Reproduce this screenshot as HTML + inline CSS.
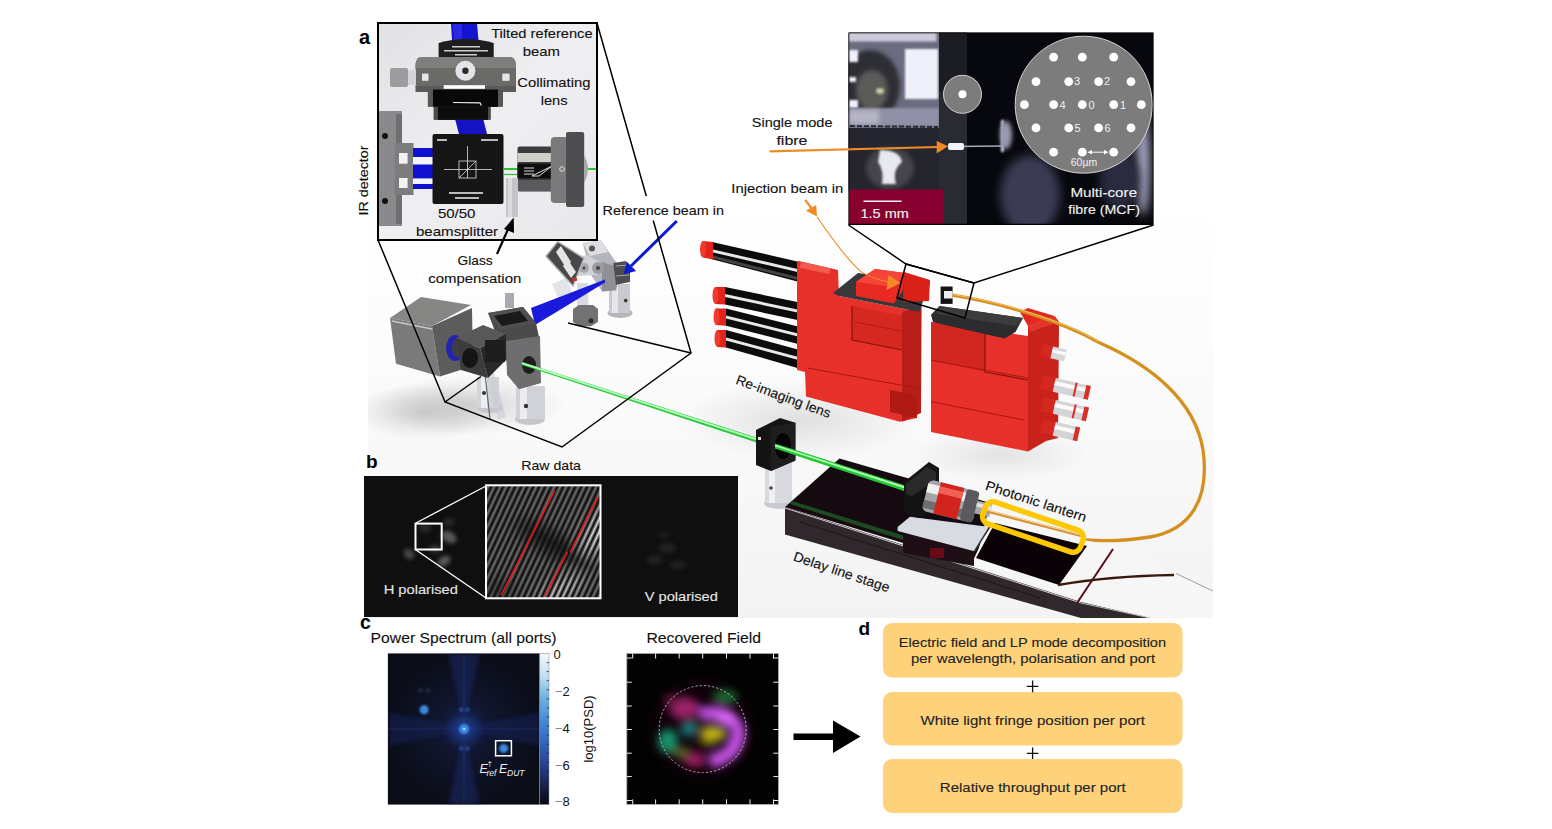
<!DOCTYPE html>
<html><head><meta charset="utf-8">
<style>
html,body{margin:0;padding:0;background:#fff;width:1552px;height:829px;overflow:hidden}
svg{display:block;font-family:"Liberation Sans",sans-serif}
.t{font-size:13.5px;fill:#111}
.w{font-size:13.5px;fill:#f4f4f4}
.h{font-size:14px;fill:#111}
.bold{font-weight:bold;font-size:16px;fill:#000}
.box{font-size:13.5px;fill:#222}
</style></head>
<body>
<svg width="1552" height="829" viewBox="0 0 1552 829">
<defs>
  <clipPath id="cliprender"><rect x="368" y="200" width="845" height="418"/></clipPath>
  <filter id="blur45" x="-50%" y="-50%" width="200%" height="200%"><feGaussianBlur stdDeviation="4.5"/></filter>
  <filter id="blur3" x="-50%" y="-50%" width="200%" height="200%"><feGaussianBlur stdDeviation="3.2"/></filter>
  <clipPath id="clipfr"><rect x="486" y="485" width="114.5" height="113.5"/></clipPath>
  <clipPath id="clippsd"><rect x="388" y="653.5" width="151.5" height="151"/></clipPath>
  <clipPath id="cliprf"><rect x="627" y="654" width="151" height="150"/></clipPath>
  <linearGradient id="fringe" gradientUnits="userSpaceOnUse" x1="0" y1="0" x2="5.44" y2="0" spreadMethod="repeat" gradientTransform="translate(486 485) rotate(25)">
    <stop offset="0" stop-color="#000"/><stop offset="0.25" stop-color="#707070"/><stop offset="0.5" stop-color="#fff"/><stop offset="0.75" stop-color="#707070"/><stop offset="1" stop-color="#000"/>
  </linearGradient>
  <mask id="frmask" maskUnits="userSpaceOnUse" x="486" y="485" width="115" height="114">
    <rect x="486" y="485" width="115" height="114" fill="#6a6a6a"/>
    <g filter="url(#blur6)">
      <ellipse cx="555" cy="545" rx="45" ry="10" fill="#0a0a0a" transform="rotate(30 555 545)"/>
      <ellipse cx="598" cy="530" rx="12" ry="28" fill="#f0f0f0" transform="rotate(28 598 530)"/>
      <ellipse cx="560" cy="590" rx="26" ry="10" fill="#e0e0e0" transform="rotate(-30 560 590)"/>
      <ellipse cx="500" cy="590" rx="15" ry="12" fill="#383838"/>
    </g>
  </mask>
  <filter id="blur6" x="-50%" y="-50%" width="200%" height="200%"><feGaussianBlur stdDeviation="7"/></filter>
  <radialGradient id="psdglow" cx="464" cy="729" r="80" gradientUnits="userSpaceOnUse">
    <stop offset="0" stop-color="#18224c"/><stop offset="0.35" stop-color="#10162e"/><stop offset="1" stop-color="#0a0c16"/>
  </radialGradient>
  <linearGradient id="cbar" x1="0" y1="0" x2="0" y2="1">
    <stop offset="0" stop-color="#f4f8fc"/><stop offset="0.15" stop-color="#bfe0f0"/><stop offset="0.3" stop-color="#6ab0e0"/>
    <stop offset="0.5" stop-color="#3a7cd0"/><stop offset="0.7" stop-color="#2a4aa0"/><stop offset="0.85" stop-color="#1a2658"/><stop offset="1" stop-color="#050810"/>
  </linearGradient>
  <clipPath id="clipmcf"><rect x="848.5" y="32.5" width="305" height="192.5"/></clipPath>
  <filter id="blur1" x="-50%" y="-50%" width="200%" height="200%"><feGaussianBlur stdDeviation="1"/></filter>
  <filter id="blur2" x="-50%" y="-50%" width="200%" height="200%"><feGaussianBlur stdDeviation="2"/></filter>
  <filter id="blur4" x="-50%" y="-50%" width="200%" height="200%"><feGaussianBlur stdDeviation="5"/></filter>
  <linearGradient id="renderbg" x1="0" y1="0" x2="0" y2="1">
    <stop offset="0" stop-color="#ffffff"/><stop offset="0.5" stop-color="#fafafa"/><stop offset="1" stop-color="#f3f3f3"/>
  </linearGradient>
  <radialGradient id="shadow"><stop offset="0" stop-color="#b0b0b0"/><stop offset="1" stop-color="#b0b0b0" stop-opacity="0"/></radialGradient>
  <linearGradient id="insetbg" x1="0" y1="0" x2="1" y2="1">
    <stop offset="0" stop-color="#e2e2e4"/><stop offset="0.5" stop-color="#efeff1"/><stop offset="1" stop-color="#e8e8ea"/>
  </linearGradient>
</defs>

<!-- ===== render background ===== -->
<g id="render" clip-path="url(#cliprender)">
  <rect x="368" y="200" width="845" height="418" fill="url(#renderbg)"/>
  <ellipse cx="470" cy="405" rx="95" ry="30" fill="url(#shadow)" opacity="0.5"/>
  <ellipse cx="425" cy="412" rx="75" ry="28" fill="url(#shadow)" opacity="0.55"/>
  <ellipse cx="800" cy="420" rx="120" ry="40" fill="url(#shadow)" opacity="0.35"/>
  <ellipse cx="1000" cy="455" rx="90" ry="25" fill="url(#shadow)" opacity="0.3"/>
  <polygon points="1176,573 1213,590 1213,618 1150,618" fill="#fff"/>
  <!-- reference mount -->
  <g id="refmount">
    <!-- right post -->
    <ellipse cx="620" cy="313" rx="12.5" ry="5" fill="#b4b6bc"/>
    <rect x="609" y="284" width="21" height="29" fill="#c8cad0"/>
    <rect x="612" y="284" width="6" height="29" fill="#e4e6ea"/>
    <circle cx="625.7" cy="300.6" r="1.8" fill="#333"/>
    <!-- middle post -->
    <rect x="577" y="283" width="11.3" height="25" fill="#d8dae0"/>
    <polygon points="573,309 579,305 593,305 598,309 598,322 591,326.3 579,326.3 573,322" fill="#727274"/>
    <circle cx="591" cy="320.7" r="2.5" fill="#2a2a2a"/>
    <!-- lens tube -->
    <polygon points="552,284 566,278 573,294 559,300" fill="#e2e4ea"/>
    <!-- body -->
    <polygon points="582.7,243 600.8,240.3 620.2,268 616,290.2 602,291.6 591,275" fill="#b4b6bb"/>
    <polygon points="582.7,243 600.8,240.3 608,252 590,256" fill="#dcdee2"/>
    <polygon points="602,262 620.2,268 616,290.2 602,291.6" fill="#8e9095"/>
    <circle cx="592" cy="248.5" r="3" fill="#555"/>
    <!-- knob -->
    <polygon points="613.2,263 626,261 630,270 630,282 616,284.7" fill="#4e4e50"/>
    <line x1="616" y1="266" x2="629" y2="265" stroke="#aaa" stroke-width="1"/>
    <line x1="616" y1="276" x2="629" y2="275" stroke="#aaa" stroke-width="1"/>
    <!-- gimbal -->
    <polygon points="570,256 588,255.5 600,262 598,275 575,276" fill="#d0d2d8"/>
    <circle cx="584" cy="268" r="5" fill="#a8aab0"/><circle cx="584" cy="268" r="1.5" fill="#444"/>
    <circle cx="598" cy="268" r="6" fill="#9a9ca2"/><circle cx="598" cy="268" r="2" fill="#444"/>
    <!-- mirror plate -->
    <polygon points="557.7,241.6 584,258.3 573,286 546,256.2" fill="#48484a" stroke="#b4b4b4" stroke-width="1.5" stroke-linejoin="round"/>
    <polygon points="556,252 561,246 571,262 566,268" fill="#e4e4e4"/>
    <polygon points="563,266 568,260 576,272 571,278" fill="#e4e4e4"/>
    <rect x="572" y="278" width="5" height="3" fill="#c03030"/>
  </g>
  <!-- blue beam cone -->
  <polygon points="531,308 605,279.5 605,282.5 535,325" fill="#1a1adc"/>
  <!-- optics cluster -->
  <g id="optics">
    <!-- posts -->
    <ellipse cx="490" cy="408" rx="13" ry="5" fill="#c4c6cc"/>
    <rect x="477" y="377" width="22" height="31" fill="#d2d4da"/>
    <rect x="481" y="377" width="6" height="31" fill="#eceef2"/>
    <circle cx="484" cy="393" r="2" fill="#333"/>
    <polygon points="482,356 489,354 506,417 498,420" fill="#c8ccd4" opacity="0.6"/>
    <line x1="483" y1="356" x2="490" y2="419" stroke="#666" stroke-width="1.2"/>
    <ellipse cx="530" cy="419" rx="15" ry="6" fill="#c4c6cc"/>
    <rect x="516" y="386" width="29" height="33" fill="#d0d2d8"/>
    <rect x="520" y="386" width="7" height="33" fill="#eaecf0"/>
    <circle cx="526" cy="406" r="2.2" fill="#333"/>
    <!-- camera -->
    <polygon points="390,318 432,326 440,376.6 396,363.8" fill="#7a7a7a"/>
    <polygon points="432,326 472,308 473,366 440,376.6" fill="#5c5c5c"/>
    <polygon points="390,318 421,297 471,305 432,326" fill="#868684"/>
    <line x1="392" y1="321" x2="432" y2="329" stroke="#c8c8c8" stroke-width="1.5"/>
    <ellipse cx="455" cy="348" rx="9" ry="13" fill="#2424b0"/>
    <ellipse cx="457" cy="348" rx="5" ry="9" fill="#404040"/>
    <!-- kinematic mount -->
    <polygon points="488,313 523,307 536,323 540,342 540,383 519,389 506,360" fill="#4a4a4a"/>
    <polygon points="488,313 523,307 536,323 500,330" fill="#505052"/>
    <polygon points="494,316 520,311 528,321 502,326" fill="#1a1a1a"/>
    <rect x="505" y="293" width="9" height="15" fill="#a8aab0"/>
    <polygon points="506,341 540,336 541,383 519,389 507,375" fill="#6e6e70"/>
    <ellipse cx="529" cy="365" rx="7" ry="9" fill="#1e1e1e"/>
    <!-- cage cube -->
    <polygon points="456,338 483,325 506,334 480,348" fill="#585858"/>
    <polygon points="456,338 480,348 488,378 461,370" fill="#3c3c3c"/>
    <polygon points="480,348 506,334 506,360 488,378" fill="#2a2a2a"/>
    <ellipse cx="470" cy="358" rx="8" ry="10" fill="#151515"/>
    <rect x="485" y="340" width="20" height="22" fill="#1d1d1d"/>
  </g>
  <!-- green beam -->
  <polygon points="522,362.0 907,485.9 907,492.1 522,365.0" fill="#26c834"/><line x1="522" y1="363.1" x2="907" y2="488.3" stroke="#b8ffc0" stroke-width="1.8"/>
  <!-- left red block -->
  <g id="redL">
    <!-- rods -->
    <g>
      <polygon points="711,241.7 806,263.4 806,283.7 711,259" fill="#0c0c0c"/>
      <polygon points="711,249 806,271 806,274 711,252" fill="#e8e8e8"/>
      <polygon points="711,255 806,279 806,282 711,258" fill="#444"/>
      <polygon points="703,241 713,242 713,259.5 703,257.5" fill="#e3221b"/>
      <ellipse cx="703" cy="249.3" rx="3" ry="8.3" fill="#f03a30"/>
      <polygon points="725,287 807,304 807,322 725,304.5" fill="#0c0c0c"/>
      <polygon points="725,294 807,311.5 807,314.5 725,297" fill="#e8e8e8"/>
      <polygon points="715,287 725,287 725,304.5 715,304" fill="#e3221b"/>
      <ellipse cx="715.5" cy="295.6" rx="3" ry="8.5" fill="#f03a30"/>
      <polygon points="726,308.5 806,328.6 806,346 726,325.7" fill="#0c0c0c"/>
      <polygon points="726,315.5 806,335.5 806,338.5 726,318.5" fill="#e8e8e8"/>
      <polygon points="716,308.5 726,308.5 726,325.7 716,325" fill="#e3221b"/>
      <ellipse cx="716.5" cy="316.8" rx="3" ry="8.5" fill="#f03a30"/>
      <polygon points="726,330 806,351.7 806,370.5 726,347.4" fill="#0c0c0c"/>
      <polygon points="726,337.5 806,359 806,362 726,340.5" fill="#e8e8e8"/>
      <polygon points="717,330 726,330 726,347.4 717,347" fill="#e3221b"/>
      <ellipse cx="717.5" cy="338.5" rx="3" ry="8.5" fill="#f03a30"/>
      <polygon points="797,303 812,306 812,328 797,324" fill="#e8302a"/>
      <polygon points="797,326 812,330 812,349 797,345" fill="#e8302a"/>
      <polygon points="797,349 812,352 812,372 797,369" fill="#e8302a"/>
    </g>
    <polygon points="799,261 838,270 839,296 919.5,312 917,418 900,421.7 806,396.4 805,372 797,370 797,262" fill="#e8302a"/>
    <polygon points="902,312 921.6,305 921,413 902,421.7" fill="#b81d17"/>
    <polygon points="833,293 858,273 930,283 921.6,305 919.5,312 839,296" fill="#38383a"/>
    <polygon points="856,282 875,269 905,273 903,290 894,303.5 856,296" fill="#e82a22"/>
    <polygon points="856,282 875,269 905,273 894,287" fill="#f5453a"/>
    <polygon points="904,272 930,280 929,301 903,302" fill="#d82219"/>
    <polygon points="852,306 902,316 902,350 852,340" fill="#d42820"/>
    <polyline points="852,306 852,340 902,350" stroke="#8a120d" stroke-width="1.2" fill="none"/>
    <line x1="855" y1="322" x2="902" y2="331" stroke="#a8160f" stroke-width="0.8"/>
    <line x1="808" y1="368" x2="917" y2="388" stroke="#a8160f" stroke-width="1"/>
    <polygon points="890,390 917,395 917,418 890,412" fill="#b01a14"/>
    <rect x="801" y="262" width="30" height="6" fill="#f25a50" transform="rotate(12 801 262)"/>
  </g>
  <!-- right red block -->
  <g id="redR">
    <polygon points="931,322 1028,336 1028,451.5 931,432" fill="#e8302a"/>
    <polygon points="1028,326 1054.6,316 1059,322 1058,438 1046,441 1028,451.5" fill="#c8221b"/>
    <polygon points="1028,326 1054.6,316 1059,322 1030,332" fill="#e2352c"/>
    <polygon points="1020,312 1028,308 1054.6,316 1028,326" fill="#e4261f"/>
    <polygon points="931,322 985,333 985,372 931,360" fill="#d22720"/>
    <polyline points="985,333 985,372 1028,380" stroke="#8a120d" stroke-width="1.2" fill="none"/>
    <line x1="931" y1="360.3" x2="1028" y2="378" stroke="#a8160f" stroke-width="1"/>
    <line x1="931" y1="401.6" x2="1024" y2="420" stroke="#a8160f" stroke-width="1"/>
    <polygon points="931,314.7 939.5,306 1023,318 1015.5,332 1004.7,338.6 933,322.3" fill="#2c2c2e"/>
    <polygon points="939.5,306 1023,318 1016,326 936,314" fill="#3c3c3e"/>
    <rect x="940.6" y="286.5" width="12" height="17.4" fill="#141414"/>
    <rect x="944" y="291" width="8.6" height="7.5" fill="#eeeeee"/>
    <!-- micrometers -->
    <g transform="rotate(12.8 1041.6 350)">
      <rect x="1041.6" y="344" width="12" height="12" fill="#d42820"/>
      <rect x="1052" y="344" width="14" height="12" fill="#d8d8dc"/><rect x="1052" y="347" width="14" height="3" fill="#fafafa"/>
    </g>
    <g transform="rotate(12.8 1041.6 382)">
      <rect x="1041.6" y="375" width="14" height="14" fill="#d42820"/>
      <rect x="1054.6" y="375" width="36" height="14" fill="#d4d4d8"/><rect x="1054.6" y="378" width="36" height="4" fill="#fafafa"/>
      <rect x="1075" y="375" width="2" height="14" fill="#e02a22"/><rect x="1086" y="375" width="4.6" height="14" fill="#d83028"/>
    </g>
    <g transform="rotate(12.8 1041.6 404)">
      <rect x="1041.6" y="397" width="14" height="14" fill="#d42820"/>
      <rect x="1054.6" y="397" width="34" height="14" fill="#d4d4d8"/><rect x="1054.6" y="400" width="34" height="4" fill="#fafafa"/>
      <rect x="1074" y="397" width="2" height="14" fill="#e02a22"/><rect x="1084" y="397" width="4.6" height="14" fill="#d83028"/>
    </g>
    <g transform="rotate(12.8 1041.6 426)">
      <rect x="1041.6" y="419" width="14" height="14" fill="#d42820"/>
      <rect x="1054.6" y="419" width="25" height="14" fill="#d4d4d8"/><rect x="1054.6" y="422" width="25" height="4" fill="#fafafa"/>
      <rect x="1075" y="419" width="4.6" height="14" fill="#d83028"/>
    </g>
  </g>
  <!-- orange fibre -->
  <path d="M952.6,295.2 C1000,303 1060,320 1100,343 C1150,365 1195,400 1203,450 C1210,500 1190,530 1150,537 C1120,542 1100,541 1085,540" fill="none" stroke="#d58f1c" stroke-width="3.3"/>
  <path d="M952.6,294.5 C1000,302 1060,319 1100,342" fill="none" stroke="#f4c060" stroke-width="1"/>
  <!-- middle mount -->
  <g id="midmount">
    <ellipse cx="779" cy="503" rx="15" ry="6" fill="#c8cad0"/>
    <rect x="765" y="462" width="27" height="41" fill="#d8dae0"/>
    <rect x="769" y="462" width="6" height="41" fill="#eef0f4"/>
    <circle cx="771" cy="488" r="1.8" fill="#444"/>
    <polygon points="756,430 780,418 795.4,422.7 795.4,460.6 771,471 756,465" fill="#141414"/>
    <polygon points="771,427 795.4,422.7 795.4,460.6 771,471" fill="#1e1e1e"/>
    <ellipse cx="783" cy="446" rx="8" ry="13" fill="#050505"/>
    <polygon points="775,443.4 800,451.5 800,456.8 775,448.5" fill="#26c834"/><line x1="775" y1="445.4" x2="800" y2="453.5" stroke="#b8ffc0" stroke-width="1.6"/>
    <rect x="758" y="437" width="3" height="3" fill="#ddd"/>
  </g>
  <!-- delay stage -->
  <g id="stage">
    <polygon points="785,507 839.5,458.5 907,478 990,503 975,565" fill="#150a10"/>
    <polygon points="792,501 905,536 903,540 790,504" fill="#1f5a28" opacity="0.8"/>
    <polygon points="800,451.5 910,486.9 910,493.1 800,456.8" fill="#26c834"/><line x1="800" y1="453.5" x2="910" y2="489.2" stroke="#b8ffc0" stroke-width="1.8"/>
    <polygon points="971,565 990,524 1124,547 1176,573.5 1213,591 1213,618 1152,618" fill="#f6f6f6"/>
    <line x1="1176" y1="573.5" x2="1213" y2="591" stroke="#999" stroke-width="1"/>
    <polygon points="976,558 995,523 1087,546 1059,585" fill="#0a0206"/>
    <polygon points="785,507 1081,602 1150,618 1081,618 785,534.6" fill="#30282c"/>
    <line x1="785" y1="508" x2="1081" y2="603" stroke="#d0c8cc" stroke-width="1"/>
    <line x1="1081" y1="603" x2="1150" y2="618" stroke="#bbb" stroke-width="1"/>
    <line x1="800" y1="522" x2="1040" y2="598" stroke="#1e181b" stroke-width="1"/>
    <line x1="1113" y1="549" x2="1077" y2="603" stroke="#5a0a14" stroke-width="2"/>
    <path d="M1058,585 Q1110,576 1174,575" stroke="#3a1a10" stroke-width="2.5" fill="none"/>
    <!-- lantern mount -->
    <polygon points="903,534 974,545 974,566 903,553" fill="#1d0f15"/>
    <rect x="930" y="548" width="14" height="10" fill="#6a0a14"/>
    <polygon points="897.6,527 910,516.7 989.6,527 974.4,551.3 897.6,531" fill="#d8dbe2"/>
    <line x1="974.4" y1="551.3" x2="989.6" y2="527" stroke="#333" stroke-width="1.5"/>
    <polygon points="904,482 929,462 939,468 939,509 918,518 904,512" fill="#141414"/>
    <polygon points="906,484 927,467 936,472 936,480 912,496 906,494" fill="#2a2a2a"/>
    <g transform="rotate(14 950 500)">
      <rect x="925" y="485" width="52" height="32" rx="5" fill="#a4a6aa"/>
      <rect x="925" y="489" width="52" height="9" fill="#f0f0f0"/>
      <rect x="925" y="506" width="52" height="8" fill="#6e6e72"/>
      <rect x="937" y="485" width="24" height="32" fill="#d2231c"/>
      <rect x="937" y="489" width="24" height="7" fill="#f06058"/>
      <rect x="964" y="485" width="13" height="32" rx="3" fill="#5a5a5e"/>
      <rect x="977" y="494" width="15" height="13" fill="#a8a8ac"/>
      <rect x="977" y="496" width="15" height="4" fill="#e0e0e0"/>
    </g>
  </g>
  <!-- yellow box -->
  <line x1="987" y1="511" x2="1083" y2="536" stroke="#d8902c" stroke-width="3.2"/>
  <line x1="987" y1="510" x2="1080" y2="534.5" stroke="#f8e0c0" stroke-width="1"/>
  <rect x="981.5" y="515.5" width="103" height="23" rx="8" fill="none" stroke="#fcc800" stroke-width="5.5" transform="rotate(18.7 1033 527)"/>
  <!-- zoom arrow (injection) -->
  <path d="M817,216.7 Q845,258 861,271.6 Q872,279 890,282" stroke="#f08a24" stroke-width="1.1" fill="none"/>
  <polygon points="900.6,283 888.5,275 886.5,290" fill="#f08a24"/>
</g>

<!-- ===== inset a ===== -->
<g id="insetA">
  <rect x="378" y="23" width="219" height="217" fill="url(#insetbg)"/>
  <!-- IR detector -->
  <rect x="379" y="111" width="23" height="115" fill="#8a8a8c"/>
  <rect x="396" y="114" width="6" height="110" fill="#6f6f72"/>
  <circle cx="385" cy="136" r="3" fill="#111"/>
  <circle cx="385" cy="201" r="3" fill="#111"/>
  <rect x="394.5" y="143" width="19" height="52" fill="#7d7d80"/>
  <rect x="399" y="153" width="8.6" height="10.7" fill="#f2f2f2"/>
  <rect x="399" y="178" width="8.6" height="10" fill="#f2f2f2"/>
  <rect x="413" y="148" width="21" height="41" fill="#1010d0"/>
  <rect x="413" y="157" width="21" height="7.5" fill="#f4f4ff"/>
  <rect x="413" y="178.4" width="21" height="5.6" fill="#f4f4ff"/>
  <!-- blue tube top -->
  <polygon points="451,24 477,24 478.5,40 452,40" fill="#1414d0"/>
  <polygon points="453,24 462,24 462,40 454,40" fill="#2a2ae0"/>
  <!-- lens mount -->
  <path d="M438.6,43 Q466,35 493.7,43 L493.7,60 L438.6,60 Z" fill="#1e1e1e"/>
  <g fill="#cfcfcf"><rect x="452" y="46" width="28" height="1.5"/><rect x="444" y="50" width="44" height="1.5"/><rect x="455" y="54" width="22" height="1.5"/></g>
  <path d="M420,57 L511,57 Q516,59 516,66 L516,86 Q516,92 508,92 L423,92 Q415.5,92 415.5,86 L415.5,66 Q415.5,59 420,57 Z" fill="#6a6a68"/>
  <path d="M420,57 L511,57 Q516,59 516,66 L516,68 L415.5,68 L415.5,66 Q415.5,59 420,57 Z" fill="#7e7e7c"/>
  <rect x="415.5" y="86" width="100.5" height="6" fill="#5a5a58"/>
  <rect x="390" y="68" width="18" height="19" rx="2" fill="#9c9c9e"/>
  <rect x="408" y="70" width="8" height="15" fill="#d4d4d8"/>
  <rect x="422" y="73.6" width="6.5" height="7.2" fill="#e6e6e6"/>
  <rect x="502.3" y="73.6" width="7.3" height="7.2" fill="#e6e6e6"/>
  <circle cx="465.4" cy="70.7" r="10" fill="#e4e4e8"/>
  <circle cx="465.4" cy="70.7" r="3.2" fill="#2a2a2a"/>
  <rect x="443.7" y="85.2" width="41.3" height="3.6" fill="#fff"/>
  <rect x="427.8" y="89.5" width="75.2" height="17.4" fill="#585856"/>
  <rect x="433" y="89.5" width="65" height="17.4" fill="#080808"/>
  <rect x="433.6" y="106.9" width="57.2" height="13" fill="#4a4a48"/>
  <rect x="438" y="106.9" width="50" height="13" fill="#0c0c0c"/>
  <path d="M453,102.5 L480,102.8 L481.3,105.4" stroke="#eee" stroke-width="1.2" fill="none"/>
  <polygon points="455.3,120 483.5,120 487,134 459,134" fill="#1414c4"/>
  <!-- beamsplitter cube -->
  <rect x="432.5" y="134" width="71" height="70" rx="2" fill="#161616"/>
  <g stroke="#ddd" stroke-width="0.8" fill="none">
    <rect x="459" y="161" width="17" height="17"/>
    <line x1="444" y1="169.5" x2="492" y2="169.5"/>
    <line x1="467.5" y1="146" x2="467.5" y2="178"/>
    <line x1="459" y1="178" x2="476" y2="161"/>
  </g>
  <g fill="#bbb" font-size="3.5">
    <rect x="437" y="139" width="10" height="2"/><rect x="481" y="139" width="17" height="2"/>
    <rect x="449" y="192" width="34" height="2"/><rect x="455" y="197" width="24" height="2"/>
  </g>
  <!-- green line -->
  <line x1="503" y1="169" x2="597" y2="169" stroke="#2ec23a" stroke-width="1.8"/>
  <line x1="503" y1="174.5" x2="518" y2="174.5" stroke="#2ec23a" stroke-width="1.2"/>
  <!-- right lens tube & mount -->
  <rect x="517.5" y="146.6" width="35" height="44.8" rx="2" fill="#3c3c3e"/>
  <rect x="517.5" y="153" width="35" height="9" fill="#cfcfc6"/>
  <rect x="517.5" y="163.7" width="35" height="14.7" fill="#0e0e0e"/>
  <rect x="517.5" y="180" width="35" height="11" fill="#5a5a5c"/>
  <g stroke="#f4f4f4" stroke-width="0.9"><line x1="524" y1="168" x2="534" y2="168"/><line x1="524" y1="171" x2="534" y2="171"/><line x1="524" y1="174" x2="534" y2="174"/><polyline points="532,176 552,166 539,176 532,176" fill="none"/></g>
  <rect x="550.8" y="137" width="17" height="66" rx="4" fill="#7a7a7c"/>
  <rect x="566" y="132" width="18.2" height="75" rx="2" fill="#4e4e50"/>
  <circle cx="562" cy="169" r="2.3" fill="none" stroke="#e0e0e0" stroke-width="1"/>
  <path d="M584,155 Q592,169 584,183" fill="#a8a8aa"/>
  <!-- glass compensation -->
  <rect x="506" y="178" width="12" height="39" fill="#c4c4c8"/>
  <rect x="508" y="178" width="4" height="39" fill="#dcdce0"/>
  <rect x="378" y="23" width="219" height="217" fill="none" stroke="#000" stroke-width="2"/>
</g>
<!-- ===== MCF photo ===== -->
<g id="mcf" clip-path="url(#clipmcf)">
  <rect x="848.5" y="32.5" width="305" height="192.5" fill="#07080d"/>
  <!-- left metal -->
  <rect x="848.5" y="32.5" width="91" height="160" fill="#6c6c80"/>
  <rect x="848.5" y="32.5" width="88" height="9" fill="#cacada" filter="url(#blur1)"/>
  <ellipse cx="870" cy="86" rx="30" ry="36" fill="#2e2e36" filter="url(#blur2)"/>
  <ellipse cx="872" cy="90" rx="16" ry="20" fill="#5a5a58" filter="url(#blur2)"/>
  <ellipse cx="880" cy="91" rx="4" ry="3" fill="#c8c8a0" filter="url(#blur1)"/>
  <rect x="905" y="49" width="33" height="50" fill="#f0f0fa" filter="url(#blur1)"/>
  <rect x="849" y="50" width="9" height="12" fill="#f0f0ff" filter="url(#blur1)"/>
  <rect x="849" y="77" width="7" height="5" fill="#f0f0ff" filter="url(#blur1)"/>
  <rect x="849" y="100" width="9" height="8" fill="#f0f0ff" filter="url(#blur1)"/>
  <rect x="849" y="108" width="90" height="18" fill="#9090a6" filter="url(#blur1)"/>
  <rect x="849" y="110" width="30" height="14" fill="#b4b4c4" filter="url(#blur2)"/>
  <line x1="850" y1="126" x2="938" y2="127" stroke="#2a2a36" stroke-width="2" stroke-dasharray="5,2"/>
  <rect x="848.5" y="128" width="91" height="62" fill="#24252e"/>
  <ellipse cx="890" cy="168" rx="24" ry="21" fill="#44444c" filter="url(#blur2)"/>
  <path d="M880,150 Q900,150 902,162 Q892,170 896,184 L882,184 Q884,170 878,162 Z" fill="#e8e8f2" filter="url(#blur1)"/>
  <rect x="939" y="32.5" width="28" height="192" fill="#2a2b32"/>
  <rect x="939" y="32.5" width="28" height="60" fill="#1c1d22"/>
  <rect x="1001" y="120" width="3" height="32" fill="#cfd0da" filter="url(#blur1)"/>
  <line x1="955" y1="146.5" x2="1003" y2="146" stroke="#aab" stroke-width="1.5"/>
  <rect x="948" y="143" width="16" height="7" rx="2" fill="#f4f4ff"/>
  <!-- mcf glow -->
  <ellipse cx="1030" cy="195" rx="30" ry="40" fill="#3a3b52" filter="url(#blur4)"/>
  <ellipse cx="1143" cy="165" rx="7" ry="50" fill="#a8a8c4" filter="url(#blur4)"/>
  <ellipse cx="1120" cy="180" rx="20" ry="30" fill="#2a2b40" filter="url(#blur4)"/>
  <ellipse cx="1006" cy="135" rx="6" ry="14" fill="#9a9ab0" filter="url(#blur2)"/>
  <rect x="849" y="189.5" width="94" height="35" fill="#87002f"/>
  <line x1="863.5" y1="201.3" x2="901.5" y2="201.3" stroke="#f4f4f4" stroke-width="1.4"/>
  <circle cx="1083.7" cy="104.7" r="68.5" fill="#7c7c7c" stroke="#d4d4d4" stroke-width="1"/>
  <circle cx="962.5" cy="94.3" r="19" fill="#7c7c7c" stroke="#d4d4d4" stroke-width="1"/>
  <circle cx="962.5" cy="94.3" r="4" fill="#fff"/>
  <g fill="#fff">
    <circle cx="1053.6" cy="57.2" r="4.4"/><circle cx="1082.3" cy="57.2" r="4.4"/><circle cx="1113.7" cy="57.2" r="4.4"/>
    <circle cx="1036" cy="81.6" r="4.4"/><circle cx="1068.7" cy="81.6" r="4.4"/><circle cx="1098.6" cy="81.6" r="4.4"/><circle cx="1131" cy="81.6" r="4.4"/>
    <circle cx="1024.4" cy="104.7" r="4.4"/><circle cx="1053.6" cy="104.7" r="4.4"/><circle cx="1082.3" cy="104.7" r="4.4"/><circle cx="1113.7" cy="104.7" r="4.4"/><circle cx="1141.3" cy="104.7" r="4.4"/>
    <circle cx="1036" cy="127.9" r="4.4"/><circle cx="1068.7" cy="127.9" r="4.4"/><circle cx="1098.6" cy="127.9" r="4.4"/><circle cx="1131" cy="127.9" r="4.4"/>
    <circle cx="1053.6" cy="152.2" r="4.4"/><circle cx="1082.3" cy="152.2" r="4.4"/><circle cx="1113.7" cy="152.2" r="4.4"/>
  </g>
  <g fill="#f0f0f0" font-size="11px">
    <text x="1074" y="84.5">3</text><text x="1104" y="84.5">2</text>
    <text x="1059.5" y="108.5">4</text><text x="1088.5" y="108.5">0</text><text x="1120" y="108.5">1</text>
    <text x="1074.5" y="131.5">5</text><text x="1104.5" y="131.5">6</text>
    <text x="1084" y="165.5" text-anchor="middle" font-size="10.5px">60µm</text>
  </g>
  <line x1="1090" y1="152.2" x2="1106" y2="152.2" stroke="#fff" stroke-width="1"/>
  <polygon points="1087.5,152.2 1092,149.8 1092,154.6" fill="#fff"/>
  <polygon points="1108.5,152.2 1104,149.8 1104,154.6" fill="#fff"/>
  <rect x="848.5" y="32.5" width="305" height="192" fill="none" stroke="#000" stroke-width="1.5"/>
</g>
<g stroke="#000" stroke-width="1.5" fill="none">
  <polyline points="848.5,225 906,264 974,283 1153.5,225"/>
  <polygon points="906,264 974,283 965,318 897,298"/>
</g>

<!-- ===== panel b ===== -->
<g id="panelB">
  <rect x="364" y="476" width="374" height="141" fill="#0f0f0f"/>
  <g filter="url(#blur2)" fill="#8a8a8a" opacity="0.6">
    <ellipse cx="449" cy="537" rx="8" ry="5.5" transform="rotate(30 449 537)"/>
    <ellipse cx="444" cy="561" rx="7" ry="4.5" transform="rotate(-30 444 561)"/>
    <ellipse cx="409" cy="554" rx="6" ry="4.5" fill="#6e6e6e" transform="rotate(40 409 554)"/>
    <ellipse cx="435" cy="549" rx="6" ry="3.5" fill="#5a5a5a"/>
    <ellipse cx="449" cy="522" rx="6" ry="4" fill="#3a3a3a"/>
    <ellipse cx="425" cy="528" rx="6" ry="5" fill="#3a3a3a"/>
  </g>
  <g filter="url(#blur2)" fill="#3c3c3c" opacity="0.4">
    <ellipse cx="667" cy="548" rx="9" ry="5"/>
    <ellipse cx="655" cy="560" rx="8" ry="5"/>
    <ellipse cx="678" cy="565" rx="8" ry="4"/>
    <ellipse cx="664" cy="535" rx="7" ry="4" fill="#2a2a2a"/>
  </g>
  <g clip-path="url(#clipfr)">
    <rect x="486" y="485" width="114.5" height="113.5" fill="url(#fringe)" mask="url(#frmask)"/>
  </g>
  <g stroke="#e8141a" stroke-width="1.6">
    <line x1="501.1" y1="595.4" x2="554.6" y2="490.6"/>
    <line x1="544.8" y1="596.9" x2="567.5" y2="551.6"/>
    <line x1="570.2" y1="552.4" x2="597.6" y2="497.3"/>
  </g>
  <rect x="486" y="485.3" width="114.5" height="113" fill="none" stroke="#fff" stroke-width="2"/>
  <rect x="415.5" y="523.6" width="26.2" height="25.9" fill="none" stroke="#fff" stroke-width="2"/>
  <line x1="416" y1="523" x2="486" y2="486" stroke="#fff" stroke-width="1.3"/>
  <line x1="416" y1="550" x2="486" y2="598" stroke="#fff" stroke-width="1.3"/>
</g>

<!-- ===== panel c ===== -->
<g id="panelC">
  <rect x="388" y="653.5" width="151.5" height="151" fill="#0b0e1c" stroke="#999" stroke-width="0.6"/>
  <g clip-path="url(#clippsd)">
    <rect x="388" y="653.5" width="151.5" height="151" fill="url(#psdglow)"/>
    <g filter="url(#blur2)" opacity="0.55">
      <polygon points="448,653.5 480,653.5 467,712 461,712" fill="#1c2c68"/>
      <polygon points="448,804.5 480,804.5 467,746 461,746" fill="#1c2c68"/>
      <polygon points="388,712 464,727 464,731 388,746" fill="#162458"/>
      <polygon points="540,712 464,727 464,731 540,746" fill="#162458"/>
    </g>
    <g stroke="#3050a0" stroke-width="0.6" opacity="0.5">
      <line x1="464" y1="653" x2="464" y2="805"/><line x1="388" y1="729" x2="540" y2="729"/>
    </g>
    <circle cx="464.1" cy="729.1" r="14" fill="#1c3a90" filter="url(#blur4)" opacity="0.8"/>
    <circle cx="464.1" cy="729.1" r="5" fill="#3d8ee6" filter="url(#blur1)"/>
    <circle cx="464.1" cy="729.1" r="1" fill="#e0f0ff"/>
    <circle cx="424.1" cy="709.8" r="4.5" fill="#3a8ae0" filter="url(#blur1)"/>
    <circle cx="420.7" cy="690.5" r="3" fill="#1c2038" filter="url(#blur1)"/>
    <circle cx="428" cy="690.5" r="3" fill="#1c2038" filter="url(#blur1)"/>
    <g fill="#2a4a98" filter="url(#blur1)">
      <circle cx="461.2" cy="709.8" r="2.2"/><circle cx="467.4" cy="709.8" r="2.2"/>
      <circle cx="461.2" cy="748.4" r="2.2"/><circle cx="467.4" cy="748.4" r="2.2"/>
    </g>
    <circle cx="503.7" cy="748.4" r="4.5" fill="#3a8ae0" filter="url(#blur1)"/>
  </g>
  <rect x="495.6" y="740.7" width="15.8" height="15.1" fill="none" stroke="#fff" stroke-width="1.5"/>
  <text x="479.5" y="772.6" font-size="12.5px" font-style="italic" fill="#eee">E</text>
  <text x="487.5" y="766" font-size="8px" fill="#eee">†</text>
  <text x="486.5" y="776" font-size="8.5px" font-style="italic" fill="#eee">ref</text>
  <text x="499" y="772.6" font-size="12.5px" font-style="italic" fill="#eee">E</text>
  <text x="507" y="775.5" font-size="8.5px" font-style="italic" fill="#eee">DUT</text>
  <rect x="539.8" y="653.5" width="9.2" height="151" fill="url(#cbar)" stroke="#888" stroke-width="0.5"/>
  <g stroke="#222" stroke-width="0.7"><line x1="546.5" y1="662.6" x2="549" y2="662.6"/><line x1="546.5" y1="671.6" x2="549" y2="671.6"/><line x1="546.5" y1="680.7" x2="549" y2="680.7"/><line x1="546.5" y1="689.8" x2="549" y2="689.8"/><line x1="546.5" y1="698.9" x2="549" y2="698.9"/><line x1="546.5" y1="707.9" x2="549" y2="707.9"/><line x1="546.5" y1="717.0" x2="549" y2="717.0"/><line x1="546.5" y1="726.1" x2="549" y2="726.1"/><line x1="546.5" y1="735.1" x2="549" y2="735.1"/><line x1="546.5" y1="744.2" x2="549" y2="744.2"/><line x1="546.5" y1="753.3" x2="549" y2="753.3"/><line x1="546.5" y1="762.3" x2="549" y2="762.3"/><line x1="546.5" y1="771.4" x2="549" y2="771.4"/><line x1="546.5" y1="780.5" x2="549" y2="780.5"/><line x1="546.5" y1="789.5" x2="549" y2="789.5"/><line x1="546.5" y1="798.6" x2="549" y2="798.6"/></g>

  <g font-size="13px" fill="#111">
    <text x="553.5" y="659">0</text>
    <text x="555" y="696"><tspan fill="#888">−</tspan>2</text>
    <text x="555" y="733"><tspan fill="#888">−</tspan>4</text>
    <text x="555" y="769.5"><tspan fill="#888">−</tspan>6</text>
    <text x="555" y="806"><tspan fill="#888">−</tspan>8</text>
  </g>
  <text transform="translate(593,729) rotate(-90)" text-anchor="middle" font-size="13px" fill="#111">log10(PSD)</text>
  <!-- recovered field -->
  <rect x="626.8" y="653.5" width="151.6" height="150.9" fill="#030303" stroke="#aaa" stroke-width="0.8"/>
  <g clip-path="url(#cliprf)">
    <circle cx="702" cy="730" r="50" fill="#120610" filter="url(#blur6)" opacity="0.7"/>
    <g filter="url(#blur45)">
      <ellipse cx="684" cy="708" rx="15" ry="11" fill="#9a2068"/>
      <ellipse cx="672" cy="700" rx="8" ry="6" fill="#601838"/>
      <path d="M700,714 Q730,710 738,730 Q740,754 710,762" stroke="#c050e0" stroke-width="14" fill="none"/>
      <ellipse cx="726" cy="718" rx="10" ry="7" fill="#d868f8"/>
      <ellipse cx="695" cy="760" rx="11" ry="7" fill="#9a1c60"/>
      <ellipse cx="668" cy="741" rx="10" ry="12" fill="#12906a"/>
      <ellipse cx="689" cy="729" rx="9" ry="7" fill="#1c7a80"/>
      <ellipse cx="712" cy="734" rx="12" ry="8" fill="#c0b418"/>
      <ellipse cx="725" cy="697" rx="12" ry="7" fill="#1c6a30"/>
      <ellipse cx="681" cy="753" rx="8" ry="5" fill="#606a1c"/>
      <ellipse cx="700" cy="746" rx="15" ry="3.5" fill="#050505"/>
      <ellipse cx="728" cy="733" rx="4.5" ry="8" fill="#060606"/>
      <ellipse cx="697" cy="719" rx="7" ry="3" fill="#201020"/>
    </g>
  </g>
  <circle cx="702.7" cy="729.1" r="43.5" fill="none" stroke="#d8d0c0" stroke-width="0.8" stroke-dasharray="2.2,2"/>
  <g stroke="#f0f0f0" stroke-width="1">
    <path d="M632.7,653.5v5M655.6,653.5v5M679.2,653.5v5M702.7,653.5v5M726.5,653.5v5M750,653.5v5M773.5,653.5v5"/>
    <path d="M632.7,804.4v-5M655.6,804.4v-5M679.2,804.4v-5M702.7,804.4v-5M726.5,804.4v-5M750,804.4v-5M773.5,804.4v-5"/>
    <path d="M626.8,658h5M626.8,682.2h5M626.8,706h5M626.8,729.5h5M626.8,753.2h5M626.8,776.6h5M626.8,800.5h5"/>
    <path d="M778.4,658h-5M778.4,682.2h-5M778.4,706h-5M778.4,729.5h-5M778.4,753.2h-5M778.4,776.6h-5M778.4,800.5h-5"/>
  </g>
</g>

<!-- ===== panel d ===== -->
<g id="panelD">
  <rect x="883" y="623" width="299.5" height="54.5" rx="9" fill="#fdd27a"/>
  <rect x="883" y="692" width="299.5" height="53.5" rx="9" fill="#fdd27a"/>
  <rect x="883" y="759" width="299.5" height="54" rx="9" fill="#fdd27a"/>
  <polygon points="793.5,733.5 833,733.5 833,720.5 860.5,736.5 833,753 833,740 793.5,740" fill="#000"/>
</g>

<!-- glass arrow -->
<line x1="497" y1="254" x2="509" y2="227" stroke="#000" stroke-width="2.2"/>
<polygon points="513.7,217.5 504,229 514,233" fill="#000"/>
<!-- blue arrow -->
<line x1="676.8" y1="221" x2="631" y2="266" stroke="#0a1ad0" stroke-width="3"/>
<polygon points="623.6,274.2 626.9,261.8 636.1,271" fill="#0a1ad0"/>
<!-- SMF arrow -->
<line x1="769.5" y1="151.3" x2="938" y2="147" stroke="#f08a24" stroke-width="2.2"/>
<polygon points="948,146.3 936.7,141 936.7,153.6" fill="#f08a24"/>
<!-- injection arrow head -->
<line x1="805.3" y1="199.8" x2="812" y2="209" stroke="#f08a24" stroke-width="2.2"/>
<polygon points="817,216.5 806,210.7 816.2,204.9" fill="#f08a24"/>
<!-- zoom lines -->
<g stroke="#000" stroke-width="1.5" fill="none">
  <polyline points="378,240 445,402 562,447 691,353 597,23"/>
  <line x1="568" y1="323" x2="691" y2="353"/>
  <line x1="445" y1="402" x2="481" y2="376.5"/>
</g>

<!-- ===== text ===== -->
<g id="labels" stroke-width="0.12">
  <rect x="640" y="196" width="26" height="24.5" fill="#fff" stroke="none"/>
  <text x="491.2" y="37.9" font-size="13.5px" fill="#111" stroke="#111" textLength="101.4" lengthAdjust="spacingAndGlyphs">Tilted reference</text>
  <text x="522.7" y="55.8" font-size="13.5px" fill="#111" stroke="#111" textLength="37.3" lengthAdjust="spacingAndGlyphs">beam</text>
  <text x="517.3" y="87.4" font-size="13.5px" fill="#111" stroke="#111" textLength="73.1" lengthAdjust="spacingAndGlyphs">Collimating</text>
  <text x="540.7" y="105.2" font-size="13.5px" fill="#111" stroke="#111" textLength="26.9" lengthAdjust="spacingAndGlyphs">lens</text>
  <text x="437.9" y="217.8" font-size="13.5px" fill="#111" stroke="#111" textLength="37.6" lengthAdjust="spacingAndGlyphs">50/50</text>
  <text x="415.9" y="235.9" font-size="13.5px" fill="#111" stroke="#111" textLength="82.2" lengthAdjust="spacingAndGlyphs">beamsplitter</text>
  <text x="457.5" y="264.8" font-size="13.5px" fill="#111" stroke="#111" textLength="35.2" lengthAdjust="spacingAndGlyphs">Glass</text>
  <text x="428.3" y="282.9" font-size="13.5px" fill="#111" stroke="#111" textLength="93.0" lengthAdjust="spacingAndGlyphs">compensation</text>
  <text x="602.5" y="215.1" font-size="13.5px" fill="#111" stroke="#111" textLength="121.5" lengthAdjust="spacingAndGlyphs">Reference beam in</text>
  <text x="751.8" y="126.7" font-size="13.5px" fill="#111" stroke="#111" textLength="80.7" lengthAdjust="spacingAndGlyphs">Single mode</text>
  <text x="776.4" y="145.2" font-size="13.5px" fill="#111" stroke="#111" textLength="31.1" lengthAdjust="spacingAndGlyphs">fibre</text>
  <text x="731.3" y="192.6" font-size="13.5px" fill="#111" stroke="#111" textLength="111.9" lengthAdjust="spacingAndGlyphs">Injection beam in</text>
  <text x="1070.4" y="196.8" font-size="13.5px" fill="#f2f2f2" stroke="#f2f2f2" textLength="66.7" lengthAdjust="spacingAndGlyphs">Multi-core</text>
  <text x="1068.2" y="213.5" font-size="13.5px" fill="#f2f2f2" stroke="#f2f2f2" textLength="71.8" lengthAdjust="spacingAndGlyphs">fibre (MCF)</text>
  <text x="860.6" y="218.4" font-size="13.5px" fill="#f2f2f2" stroke="#f2f2f2" textLength="48.1" lengthAdjust="spacingAndGlyphs">1.5 mm</text>
  <text x="521.3" y="470.1" font-size="13.5px" fill="#111" stroke="#111" textLength="59.7" lengthAdjust="spacingAndGlyphs">Raw data</text>
  <text x="383.7" y="593.7" font-size="13.5px" fill="#e6e6e6" stroke="#e6e6e6" textLength="74.2" lengthAdjust="spacingAndGlyphs">H polarised</text>
  <text x="644.7" y="600.6" font-size="13.5px" fill="#e6e6e6" stroke="#e6e6e6" textLength="73.2" lengthAdjust="spacingAndGlyphs">V polarised</text>
  <text x="370.6" y="642.6" font-size="15px" fill="#111" stroke="#111" textLength="185.9" lengthAdjust="spacingAndGlyphs">Power Spectrum (all ports)</text>
  <text x="646.5" y="642.6" font-size="15px" fill="#111" stroke="#111" textLength="114.5" lengthAdjust="spacingAndGlyphs">Recovered Field</text>
  <text x="898.8" y="646.9" font-size="13.5px" fill="#222" stroke="#222" textLength="267.3" lengthAdjust="spacingAndGlyphs">Electric field and LP mode decomposition</text>
  <text x="911.0" y="663.3" font-size="13.5px" fill="#222" stroke="#222" textLength="244.1" lengthAdjust="spacingAndGlyphs">per wavelength, polarisation and port</text>
  <text x="920.5" y="724.8" font-size="13.5px" fill="#222" stroke="#222" textLength="224.5" lengthAdjust="spacingAndGlyphs">White light fringe position per port</text>
  <text x="939.8" y="791.8" font-size="13.5px" fill="#222" stroke="#222" textLength="185.9" lengthAdjust="spacingAndGlyphs">Relative throughput per port</text>
  <text transform="translate(368.1,215.5) rotate(-90)" font-size="13.5px" fill="#111" stroke="#111" textLength="70" lengthAdjust="spacingAndGlyphs">IR detector</text>
  <text transform="translate(783.4,396.6) rotate(20.3)" x="-50.0" y="4.5" font-size="13.5px" fill="#111" stroke="#111" textLength="99.9" lengthAdjust="spacingAndGlyphs">Re-imaging lens</text>
  <text transform="translate(1036,501.5) rotate(18)" x="-52.7" y="4.5" font-size="13.5px" fill="#111" stroke="#111" textLength="105.4" lengthAdjust="spacingAndGlyphs">Photonic lantern</text>
  <text transform="translate(841.6,572) rotate(18.5)" x="-50.4" y="4.5" font-size="13.5px" fill="#111" stroke="#111" textLength="100.7" lengthAdjust="spacingAndGlyphs">Delay line stage</text>
  <text x="359" y="44" font-size="20px" font-weight="bold" fill="#000">a</text>
  <text x="366" y="468.3" font-size="19px" font-weight="bold" fill="#000">b</text>
  <text x="360" y="629" font-size="19.5px" font-weight="bold" fill="#000">c</text>
  <text x="858.5" y="635" font-size="19px" font-weight="bold" fill="#000">d</text>
  <path d="M1026.8,686.4h11.6M1032.6,680.6v11.6M1026.8,753.3h11.6M1032.6,747.5v11.6" stroke="#111" stroke-width="1.3"/>
</g>
</svg>
</body></html>
